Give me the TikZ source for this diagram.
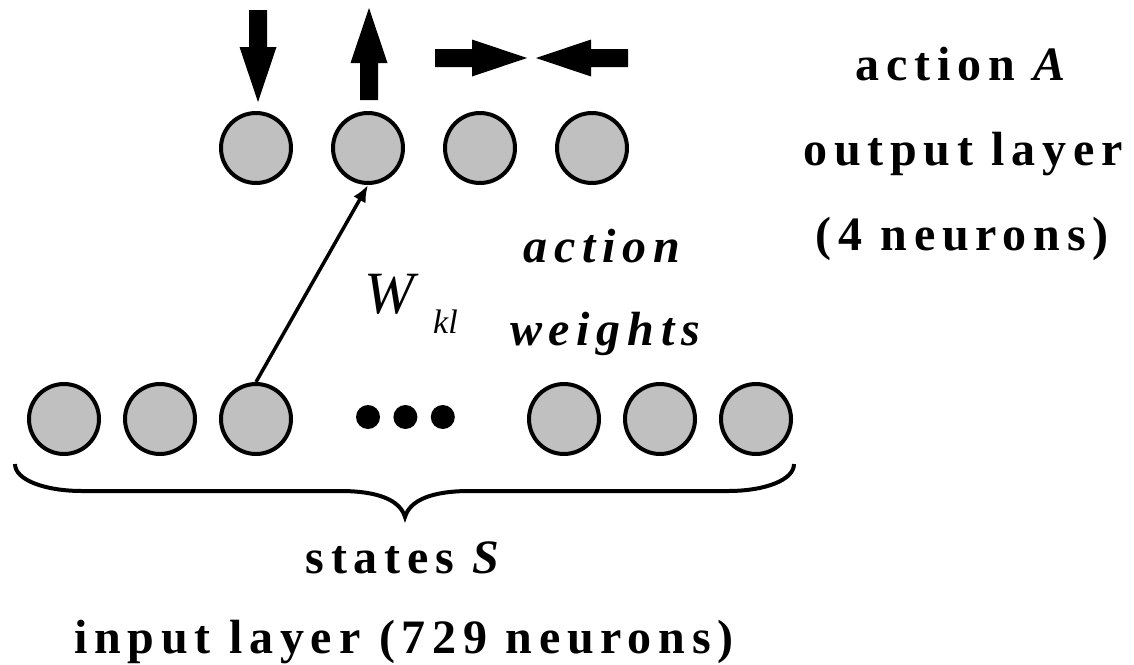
\documentclass[tikz,border=0pt]{standalone}
\usepackage{fontspec}
\setmainfont{Liberation Serif}
\newfontfamily\spacedfont[LetterSpace=14]{Liberation Serif}
\usetikzlibrary{positioning,arrows.meta}
\definecolor{neurongray}{RGB}{192,192,192}
\tikzstyle{NEURON} = [circle, draw=black, line width=4pt, fill=neurongray, minimum size=70pt, inner sep=0pt]
\tikzstyle{DOT} = [circle, fill=black, minimum size=24pt, inner sep=0pt]
\tikzstyle{LABEL} = [anchor=base, inner sep=0pt, font=\spacedfont\bfseries\fontsize{48}{56}\selectfont]
\tikzstyle{LINE} = [draw, line width=3.5pt, -{Latex[length=17pt,width=14pt]}]
\tikzstyle{BRACE} = [draw, line width=4pt]
\newcommand{\blockarrow}[3]{% start x, start y, angle
  \fill[shift={(#1,#2)}, rotate=#3] (0,-9) -- (37,-9) -- (37,-18.5) -- (92,0) -- (37,18.5) -- (37,9) -- (0,9) -- cycle;}

\begin{document}
\begin{tikzpicture}[x=1pt, y=-1pt]
\useasboundingbox (0,0) rectangle (1134,664);
% Place node
\node [NEURON] (OUT1) at (256,148) {};
\node [NEURON, right=38pt of OUT1] (OUT2) {};
\node [NEURON, right=38pt of OUT2] (OUT3) {};
\node [NEURON, right=38pt of OUT3] (OUT4) {};

\node [NEURON] (IN1) at (64,419) {};
\node [NEURON, right=22pt of IN1] (IN2) {};
\node [NEURON, right=22pt of IN2] (IN3) {};
\node [DOT] (DOT1) at (368,417) {};
\node [DOT, right=13pt of DOT1] (DOT2) {};
\node [DOT, right=13pt of DOT2] (DOT3) {};
\node [NEURON] (IN4) at (564,419) {};
\node [NEURON, right=22pt of IN4] (IN5) {};
\node [NEURON, right=22pt of IN5] (IN6) {};

\node [LABEL] (ACTION) at (964,80) {action \textit{A}};
\node [LABEL] (OUTPUT) at (963,165) {output layer};
\node [LABEL] (NOUT) at (962,250) {(4 neurons)};
\node [LABEL, font=\spacedfont\bfseries\itshape\fontsize{48}{56}\selectfont] (AW1) at (602,262) {action};
\node [LABEL, font=\spacedfont\bfseries\itshape\fontsize{48}{56}\selectfont] (AW2) at (605,345) {weights};
\node [anchor=base west, inner sep=0pt, font=\itshape\fontsize{60}{64}\selectfont] (W) at (364,313) {W};
\node [anchor=base west, inner sep=0pt, font=\itshape\fontsize{34}{36}\selectfont] (KL) at (433,333) {kl};
\node [LABEL] (STATES) at (406,573) {states \textit{S}};
\node [LABEL] (INPUT) at (404,653) {input layer (729 neurons)};
% LINES and ARROWS
\path [LINE] (IN3.north) -- (OUT2.south);
\blockarrow{258}{10}{-90}
\blockarrow{369}{100}{90}
\blockarrow{435}{58}{0}
\blockarrow{628}{58}{180}
\path [BRACE] (15,464) .. controls (15,480) and (45,491) .. (82,491) -- (340,491)
  .. controls (378,491) and (400,500) .. (405,517)
  .. controls (410,500) and (432,491) .. (470,491) -- (728,491)
  .. controls (765,491) and (794,480) .. (794,464);
\end{tikzpicture}
\end{document}
